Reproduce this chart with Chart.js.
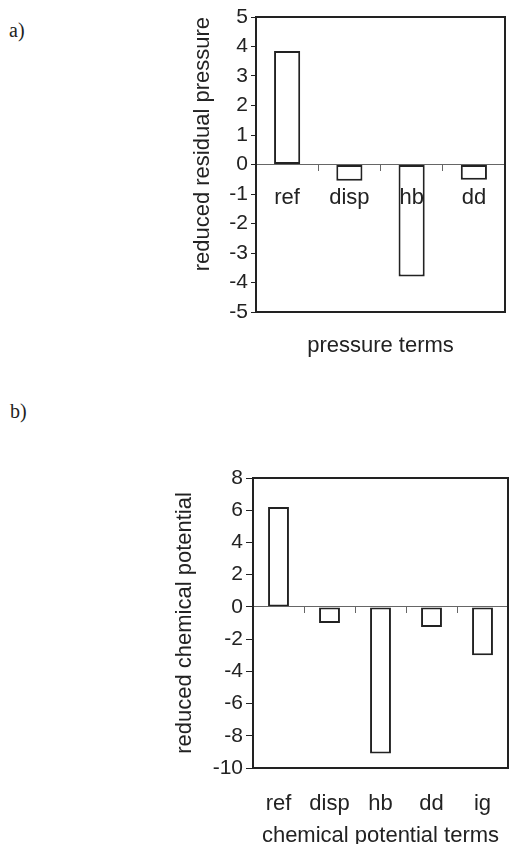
<!DOCTYPE html>
<html>
<head>
<meta charset="utf-8">
<script src="https://cdn.jsdelivr.net/npm/chart.js@4/dist/chart.umd.min.js"></script>
<style>
    html, body { margin: 0; padding: 0; background: #fff; width: 509px; height: 844px; overflow: hidden; }
    .panel { position: absolute; }
    .tag { position: absolute; font-family: "Liberation Serif", serif; font-size: 20px; line-height: 20px; color: #222; }
</style>
</head>
<body>
<div class="tag" style="left:9px; top:20px;">a)</div>
<div class="tag" style="left:10px; top:401px;">b)</div>
<div class="panel" style="left:180px; top:0; width:329px; height:370px;"><canvas id="chartA"></canvas></div>
<div class="panel" style="left:160px; top:460px; width:349px; height:390px;"><canvas id="chartB"></canvas></div>
<script>
// Panel a: pressure terms
const pressureTerms = ['ref', 'disp', 'hb', 'dd'];
const pressureValues = [3.85, -0.55, -3.8, -0.52];
const pressureTicks = { min: -5, max: 5, step: 1 };

// Panel b: chemical potential terms
const chemTerms = ['ref', 'disp', 'hb', 'dd', 'ig'];
const chemValues = [6.2, -1.0, -9.1, -1.25, -3.0];
const chemTicks = { min: -10, max: 8, step: 2 };

const FONT = '"Liberation Sans", Arial, sans-serif';
const INK = '#222';

Chart.defaults.font.family = FONT;
Chart.defaults.color = INK;
Chart.defaults.animation = false;

// box round the plot area
const frame = {
    id: 'frame',
    afterDraw(chart) {
        const { ctx, chartArea: a } = chart;
        ctx.save();
        ctx.strokeStyle = INK;
        ctx.lineWidth = 2;
        ctx.strokeRect(a.left, a.top, a.right - a.left, a.bottom - a.top);
        ctx.restore();
    }
};

const barSet = (values, pct) => ({
    data: values,
    backgroundColor: '#fff',
    borderColor: INK,
    borderWidth: 2,
    borderSkipped: false,
    categoryPercentage: 1,
    barPercentage: pct
});

const yScale = (t, title, width, align, tick) => ({
    min: t.min,
    max: t.max,
    ticks: { stepSize: t.step, font: { size: 21 }, padding: 3, color: INK },
    grid: { drawOnChartArea: false, drawTicks: true, tickLength: tick, color: INK },
    border: { color: INK, width: 2 },
    title: { display: true, text: title, font: { size: 22 }, align: align, color: INK },
    afterFit: s => { s.width = width; }
});

// zero line with short marks between categories; labels sit on top of the bars
const zeroAxis = (showLabels) => ({
    type: 'category',
    axis: 'x',
    position: { y: 0 },
    offset: true,
    grid: { drawOnChartArea: false, drawTicks: true, tickLength: 6, offset: true, color: '#666', z: 1 },
    border: { color: '#666', width: 1, z: 1 },
    ticks: {
        z: 1,
        font: { size: 22 },
        padding: 14,
        color: INK,
        maxRotation: 0,
        callback: function (v) { return showLabels ? this.getLabelForValue(v) : ''; }
    }
});

new Chart(document.getElementById('chartA'), {
    type: 'bar',
    data: { labels: pressureTerms, datasets: [barSet(pressureValues, 0.42)] },
    options: {
        responsive: true,
        maintainAspectRatio: false,
        layout: { padding: { left: 6, right: 4, top: 17, bottom: 0 } },
        plugins: { legend: { display: false }, tooltip: { enabled: false } },
        scales: {
            x: zeroAxis(true),
            xt: {
                type: 'category',
                axis: 'x',
                position: 'bottom',
                offset: true,
                ticks: { display: false },
                grid: { display: false },
                border: { display: false },
                title: { display: true, text: 'pressure terms', font: { size: 22 }, color: INK, padding: { top: 0, bottom: 11 } },
                afterFit: s => { s.height = 58; }
            },
            y: yScale(pressureTicks, 'reduced residual pressure', 70, 'end', 5)
        }
    },
    plugins: [frame]
});

new Chart(document.getElementById('chartB'), {
    type: 'bar',
    data: { labels: chemTerms, datasets: [barSet(chemValues, 0.41)] },
    options: {
        responsive: true,
        maintainAspectRatio: false,
        layout: { padding: { left: 8, right: 1, top: 18, bottom: 0 } },
        plugins: { legend: { display: false }, tooltip: { enabled: false } },
        scales: {
            x: {
                type: 'category',
                position: 'bottom',
                offset: true,
                grid: { display: false },
                border: { display: false },
                ticks: { font: { size: 22 }, padding: 15, color: INK, maxRotation: 0 },
                title: { display: true, text: 'chemical potential terms', font: { size: 22 }, color: INK, padding: { top: 0, bottom: 1 } },
                afterFit: s => { s.height = 82; }
            },
            x0: zeroAxis(false),
            y: yScale(chemTicks, 'reduced chemical potential', 85, 'center', 7)
        }
    },
    plugins: [frame]
});
</script>
</body>
</html>
